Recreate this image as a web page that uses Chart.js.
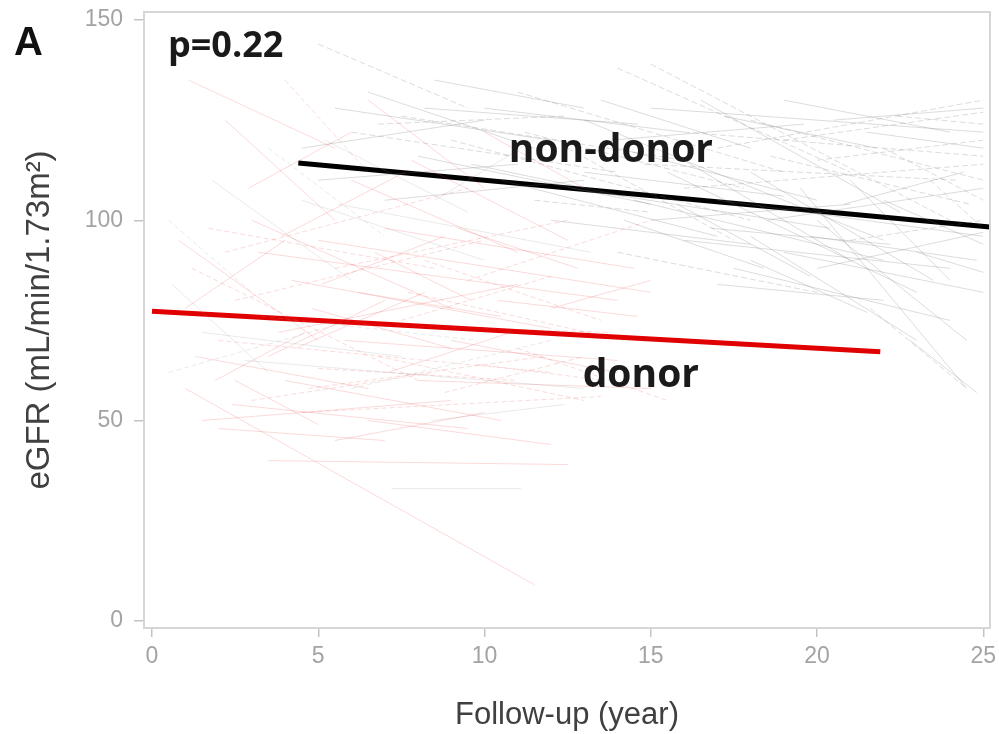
<!DOCTYPE html>
<html>
<head>
<meta charset="utf-8">
<script src="https://cdn.jsdelivr.net/npm/chart.js@4.4.1/dist/chart.umd.min.js"></script>
<style>
  html, body { margin: 0; padding: 0; background: #fff; }
  #wrap { width: 999px; height: 734px; position: relative; }
</style>
</head>
<body>
<div id="wrap"><canvas id="c"></canvas></div>
<script>
// -- tick values --
const X_TICKS = [0, 5, 10, 15, 20, 25];
const Y_TICKS = [0, 50, 100, 150];

// -- individual trajectories, [x0, y0, x1, y1] (years, eGFR) --
const donorPaths = [
    [0.5, 62, 6, 75], [0.8, 95, 5, 70], [1, 58, 11.5, 9], [1.2, 88, 8, 60],
    [1.5, 50, 9, 55], [1.8, 110, 6, 85], [2, 70, 12, 62], [2, 48, 7, 45],
    [2.2, 125, 5.5, 100], [2.5, 80, 10, 95], [2.8, 65, 13, 58], [3, 100, 9, 78],
    [3, 55, 8.5, 62], [3.2, 92, 14, 80], [3.5, 40, 12.5, 39], [3.5, 118, 7, 96],
    [3.8, 72, 11, 84], [4, 60, 10.5, 50], [4, 135, 6.5, 112], [4.2, 85, 12, 73],
    [4.5, 105, 10, 90], [4.5, 52, 13.5, 56], [4.8, 78, 9, 68], [5, 95, 15, 82],
    [5, 63, 11, 60], [5.2, 120, 9.5, 102], [5.5, 45, 10, 52], [5.5, 88, 12.5, 100],
    [5.8, 70, 14, 65], [6, 110, 11, 92], [6, 58, 12, 70], [6.2, 82, 10.5, 76],
    [6.5, 130, 10, 108], [6.8, 66, 13, 55], [7, 98, 14.5, 88], [7.2, 33, 11.1, 33],
    [7.5, 75, 12, 86], [7.8, 115, 12.5, 95], [8, 60, 15, 58], [8.2, 90, 13.5, 75],
    [8.5, 105, 11.5, 120], [9, 70, 14, 62], [9.5, 85, 15, 100], [10, 122, 13, 108],
    [1, 78, 4, 95], [0.5, 100, 3, 82], [2.5, 60, 5, 49], [1.1, 135, 5.5, 118],
    [11, 68, 15.5, 55], [12, 78, 15, 85], [1.5, 72, 7.5, 66], [2.2, 92, 9.5, 108],
    [3.5, 66, 7, 80], [6.5, 50, 12, 44], [8.8, 57, 13, 66],
    [0.6, 84, 3.5, 62], [1.3, 66, 6.5, 58], [1.7, 98, 8.5, 88], [2.4, 54, 9.5, 48],
    [2.9, 108, 6, 122], [3.3, 76, 9.8, 70], [3.9, 96, 7.6, 112], [4.3, 68, 8.2, 82],
    [4.7, 58, 11.8, 66], [5.1, 84, 8.8, 96], [5.6, 104, 13.2, 92], [6.1, 74, 13.8, 72],
    [6.7, 92, 9.6, 80], [7.1, 62, 10.8, 72], [7.7, 82, 14.2, 70], [8.4, 50, 12.4, 54],
    [9.2, 98, 12.8, 88], [9.8, 64, 13.6, 60], [10.4, 80, 14.6, 76], [1.9, 60, 4.6, 72],
];

const nonDonorPaths = [
    [4.5, 118, 10, 125], [5, 144, 9.5, 128], [5.5, 128, 12, 120], [5, 110, 11, 114],
    [6, 122, 14, 112], [6.5, 132, 11.5, 118], [7, 105, 13, 110], [7.5, 126, 16, 115],
    [8, 116, 15, 104], [8.5, 135, 13, 128], [9, 120, 18, 100], [10, 128, 16, 122],
    [10.5, 110, 17, 96], [11, 132, 19, 112], [12, 100, 18, 94], [13, 125, 22, 95],
    [14, 138, 21, 112], [14, 118, 20, 105], [14.5, 105, 22, 90], [15, 139, 24, 100],
    [15, 128, 25, 122], [15.5, 112, 23, 82], [16, 122, 25, 116], [16, 95, 24, 88],
    [16.5, 130, 22.5, 102], [17, 118, 25, 130], [17, 105, 25, 96], [17.5, 88, 24, 75],
    [18, 125, 25, 110], [18, 112, 23.5, 85], [18.5, 100, 25, 108], [19, 120, 25, 127],
    [19, 92, 25, 82], [19.5, 108, 24.5, 58], [20, 115, 25, 120], [20, 100, 24.5, 70],
    [20.5, 125, 25, 128], [21, 95, 25, 100], [21, 110, 24, 85], [13, 112, 19, 106],
    [12.5, 118, 17.5, 95], [15, 100, 21, 104], [16, 115, 21, 90], [22, 118, 25, 105],
    [22, 105, 25, 94], [23, 92, 25, 87], [14, 92, 20, 82], [17, 84, 22, 80],
    [13.5, 130, 18, 118], [16, 108, 25, 114], [18, 96, 23, 70], [19, 130, 24, 122],
    [11.5, 105, 15, 102], [20, 88, 25, 97], [21.5, 122, 25, 118], [21.6, 78, 24.5, 58],
    [22.8, 70, 24.8, 57], [18, 90, 21.5, 77],
    [6.8, 124, 12.4, 126], [8.2, 128, 14.6, 124], [9.6, 114, 14.2, 106], [11.2, 122, 17.8, 108],
    [12.6, 108, 20.4, 98], [13.8, 120, 19.6, 124], [14.8, 114, 24.2, 110], [15.8, 104, 19.8, 86],
    [17.2, 126, 21.8, 118], [18.6, 116, 24.6, 104], [19.8, 96, 24.8, 90], [20.8, 104, 24.4, 112],
    [22.4, 126, 25, 124], [16.8, 98, 22.2, 94], [14.2, 100, 18.4, 88], [23.4, 110, 25, 98],
];

// -- fitted mean lines --
const nonDonorFit = [[4.4, 114.3], [25.2, 98.3]];
const donorFit = [[0, 77.3], [21.9, 67.2]];

// -- labels (x, y = baseline position in data units) --
const labels = [
    { text: 'non-donor', x: 13.8, y: 114.5, size: 39, align: 'center' },
    { text: 'donor', x: 14.7, y: 58.3, size: 39, align: 'center' },
    { text: 'p=0.22', x: 0.48, y: 140.8, size: 36, align: 'left' },
];

const toPts = (p) => [{ x: p[0], y: p[1] }, { x: p[2], y: p[3] }];

const datasets = [];
donorPaths.forEach((p, i) => datasets.push({
    data: toPts(p),
    borderColor: i % 5 === 0 ? 'rgba(150,150,150,0.2)' : 'rgba(235,70,70,0.2)',
    borderWidth: 1,
    borderDash: i % 3 === 0 ? [5, 3] : [],
}));
nonDonorPaths.forEach((p, i) => datasets.push({
    data: toPts(p),
    borderColor: 'rgba(110,110,110,0.24)',
    borderWidth: 1,
    borderDash: i % 3 === 1 ? [6, 3] : [],
}));
datasets.push({
    data: nonDonorFit.map(([x, y]) => ({ x, y })),
    borderColor: '#000',
    borderWidth: 5,
});
datasets.push({
    data: donorFit.map(([x, y]) => ({ x, y })),
    borderColor: '#e10000',
    borderWidth: 5,
});

const frameAndText = {
    id: 'frameAndText',
    afterDraw(chart) {
        const { ctx, chartArea: a, scales } = chart;
        ctx.save();
        ctx.strokeStyle = '#d6d6d6';
        ctx.lineWidth = 2;
        ctx.strokeRect(a.left, a.top, a.right - a.left, a.bottom - a.top);

        ctx.fillStyle = '#1a1a1a';
        ctx.textBaseline = 'alphabetic';
        labels.forEach((l) => {
            ctx.font = `bold ${l.size}px 'Open Sans', sans-serif`;
            ctx.textAlign = l.align;
            ctx.fillText(l.text, scales.x.getPixelForValue(l.x), scales.y.getPixelForValue(l.y));
        });

        ctx.font = "bold 40px 'Liberation Sans', Arial, sans-serif";
        ctx.textAlign = 'left';
        ctx.fillStyle = '#111';
        ctx.fillText('A', 14, 55);
        ctx.restore();
    },
};

// drop the label overflow padding so the plot box sits where the layout padding says
const noOverflowX = (s) => { s.height = 106; s.paddingLeft = 0; s.paddingRight = 0; };
const noOverflowY = (s) => { s.width = 144; s.paddingTop = 0; s.paddingBottom = 0; };

new Chart(document.getElementById('c'), {
    type: 'scatter',
    data: { datasets },
    options: {
        responsive: true,
        maintainAspectRatio: false,
        animation: false,
        layout: { padding: { top: 12, right: 9, left: 0, bottom: 0 } },
        elements: { point: { radius: 0 }, line: { tension: 0 } },
        showLine: true,
        plugins: { legend: { display: false }, tooltip: { enabled: false } },
        scales: {
            x: {
                type: 'linear',
                min: -0.24,
                max: 25.2,
                afterBuildTicks: (s) => { s.ticks = X_TICKS.map((v) => ({ value: v })); },
                afterFit: noOverflowX,
                border: { display: false },
                grid: { drawOnChartArea: false, drawTicks: true, tickLength: 9, color: '#c4c4c4', lineWidth: 1.5 },
                ticks: {
                    color: '#a3a3a3',
                    padding: 6,
                    font: { family: "'Liberation Sans', Arial, sans-serif", size: 23 },
                },
                title: {
                    display: true,
                    text: 'Follow-up (year)',
                    color: '#404040',
                    padding: { top: 0, bottom: 0 },
                    font: { family: "'Liberation Sans', Arial, sans-serif", size: 31 },
                },
            },
            y: {
                type: 'linear',
                min: -1.8,
                max: 152,
                afterBuildTicks: (s) => { s.ticks = Y_TICKS.map((v) => ({ value: v })); },
                afterFit: noOverflowY,
                border: { display: false },
                grid: { drawOnChartArea: false, drawTicks: true, tickLength: 10, color: '#c4c4c4', lineWidth: 1.5 },
                ticks: {
                    color: '#a3a3a3',
                    padding: 11,
                    font: { family: "'Liberation Sans', Arial, sans-serif", size: 23 },
                },
                title: {
                    display: true,
                    text: 'eGFR (mL/min/1.73m²)',
                    color: '#404040',
                    padding: { top: 20, bottom: 0 },
                    font: { family: "'Liberation Sans', Arial, sans-serif", size: 33 },
                },
            },
        },
    },
    plugins: [frameAndText],
});
</script>
</body>
</html>
